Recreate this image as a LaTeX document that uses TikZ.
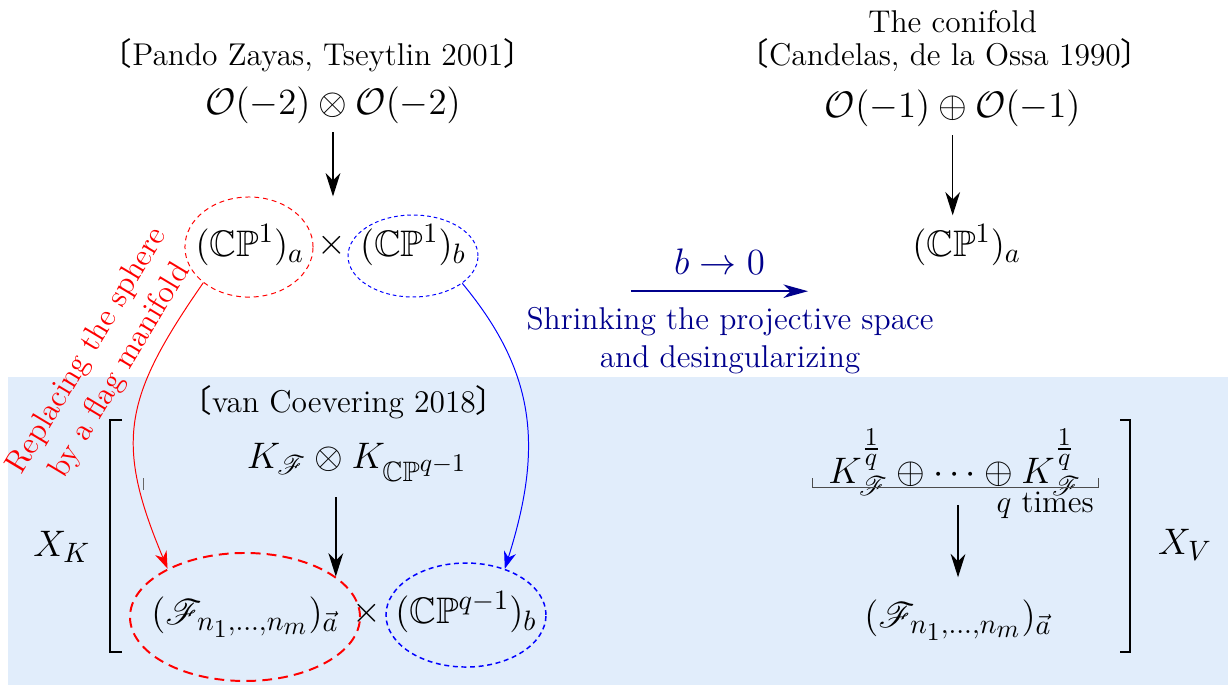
\documentclass[tikz,border=0pt]{standalone}
\usepackage{fix-cm}
\usepackage{amsmath}
\usepackage{amssymb}
\usepackage{mathrsfs}
\usepackage{fontspec}
\newfontfamily\cjkfont{Noto Sans CJK SC}
\usepackage{tikz}
\usetikzlibrary{shapes.geometric, arrows.meta, positioning}
\definecolor{coeverBg}{RGB}{225,237,251}
\definecolor{shrinkBlue}{RGB}{0,0,140}
\DeclareMathSizes{15}{15}{11.4}{10.4}
\newcommand{\refopen}{{\cjkfont 〔}}
\newcommand{\refclose}{{\cjkfont 〕}}

\begin{document}
\begin{tikzpicture}[
  txt/.style={font=\fontsize{12.8}{15.5}\selectfont, inner sep=1pt},
  mth/.style={font=\fontsize{15}{18}\selectfont},
  ring/.style={ellipse, inner sep=0pt},
  redring/.style={ring, draw=red, dash pattern=on 2pt off 1.6pt},
  bluering/.style={ring, draw=blue, dash pattern=on 1.5pt off 1.2pt},
  redringb/.style={ring, draw=red, thick, dash pattern=on 4pt off 2.5pt},
  blueringb/.style={ring, draw=blue, semithick, dash pattern=on 2pt off 1.5pt},
  arrow/.style={-{Stealth[length=9.5pt, width=6pt, inset=3pt]}, semithick},
  redarrow/.style={-{Stealth[length=7pt, width=5pt, inset=2.2pt]}, red},
  bluearrow/.style={-{Stealth[length=7pt, width=5pt, inset=2.2pt]}, blue},
  shrinkarrow/.style={-{Stealth[length=10pt, width=5.5pt, inset=3pt]}, semithick, shrinkBlue},
  brk/.style={semithick},
]
  \useasboundingbox (0,0) rectangle (17.543,-9.786);
  \fill[coeverBg] (0.114,-5.386) rectangle (17.543,-9.786);

  % Top right: the conifold
  \node[txt] (conifold) at (13.61,-0.314) {The conifold};
  \node[txt] (candelas) at (13.5,-0.786) {\refopen Candelas, de la Ossa 1990\refclose};
  \node[mth] (ooplus) at (13.61,-1.543) {$\mathcal{O}(-1)\oplus\mathcal{O}(-1)$};
  \node[mth] (cpright) at (13.81,-3.5) {$(\mathbb{CP}^1)_a$};
  \draw[arrow] (ooplus.south) -- (ooplus.south |- cpright.north);

  % Top left: Pando Zayas, Tseytlin
  \node[txt] (pando) at (4.54,-0.786) {\refopen Pando Zayas, Tseytlin 2001\refclose};
  \node[mth] (ootimes) at (4.757,-1.5) {$\mathcal{O}(-2)\otimes\mathcal{O}(-2)$};
  \node[mth] (cpa) at (3.571,-3.5) {$(\mathbb{CP}^1)_a$};
  \node[mth] (times1) at (4.743,-3.5) {$\times$};
  \node[mth] (cpb) at (5.9,-3.5) {$(\mathbb{CP}^1)_b$};
  \node[redring, minimum width=1.83cm, minimum height=1.43cm] (cparing) at (3.557,-3.529) {};
  \node[bluering, minimum width=1.857cm, minimum height=1.171cm] (cpbring) at (5.9,-3.657) {};
  \draw[arrow] (ootimes.south) -- (ootimes.south |- cparing.north);

  % b -> 0
  \coordinate (shrinkL) at (9.014,-4.16);
  \coordinate (shrinkR) at (11.543,-4.16);
  \draw[shrinkarrow] (shrinkL) -- node[above=3pt, mth, shrinkBlue] {$b\to 0$} (shrinkR);
  \node[txt, shrinkBlue, align=center] (shrinktxt) at (10.43,-4.87)
    {Shrinking the projective space\\and desingularizing};

  % Bottom left: van Coevering
  \node[txt] (vanco) at (4.914,-5.743) {\refopen van Coevering 2018\refclose};
  \node[mth] (kk) at (5.1,-6.6) {$K_{\mathscr{F}}\otimes K_{\mathbb{CP}^{q-1}}$};
  \node[mth] (flag) at (3.5,-8.814) {$(\mathscr{F}_{n_1,\dots,n_m})_{\vec{a}}$};
  \node[mth] (times2) at (5.243,-8.757) {$\times$};
  \node[mth] (cpq) at (6.657,-8.743) {$(\mathbb{CP}^{q-1})_b$};
  \node[redringb, minimum width=3.286cm, minimum height=1.829cm] (flagring) at (flag) {};
  \node[blueringb, minimum width=2.286cm, minimum height=1.486cm] (cpqring) at (6.657,-8.786) {};
  \draw[arrow, shorten <=3pt] (kk.south -| flagring.24) -- (flagring.24);
  \draw[black!60] (2.043,-6.829) -- (2.043,-7.0);

  % Replacing the sphere
  \draw[redarrow] (cparing.218) .. controls +(-1.14,-1.64) and +(-0.76,1.81) .. (flagring.148);
  \draw[bluearrow] (cpbring.331) .. controls +(1.07,-1.29) and +(0.54,1.71) .. (cpqring.50);
  \node[txt, red, rotate=59, align=center] (replace) at (1.486,-5.157)
    {Replacing the sphere\\by a flag manifold};

  % Left bracket
  \draw[brk] (1.743,-6.0) -- (1.571,-6.0) -- (1.571,-9.314) -- (1.743,-9.314);
  \node[mth] (xk) at (0.886,-7.814) {$X_K$};

  % Bottom right
  \node[mth] (kfsum) at (13.64,-6.6)
    {$K_{\mathscr{F}}^{\frac{1}{q}}\oplus\cdots\oplus K_{\mathscr{F}}^{\frac{1}{q}}$};
  \draw[black!70] (11.614,-6.829) -- (11.614,-6.971) -- (15.686,-6.971) -- (15.686,-6.829);
  \node[txt] (qtimes) at (14.93,-7.214) {$q$ times};
  \node[mth] (flag2) at (13.686,-8.857) {$(\mathscr{F}_{n_1,\dots,n_m})_{\vec{a}}$};
  \draw[arrow] (flag2.north |- qtimes.center) -- ([yshift=0.2cm]flag2.north);

  % Right bracket
  \draw[brk] (16.0,-6.0) -- (16.143,-6.0) -- (16.143,-9.314) -- (16.0,-9.314);
  \node[mth] (xv) at (16.93,-7.786) {$X_V$};
\end{tikzpicture}
\end{document}
